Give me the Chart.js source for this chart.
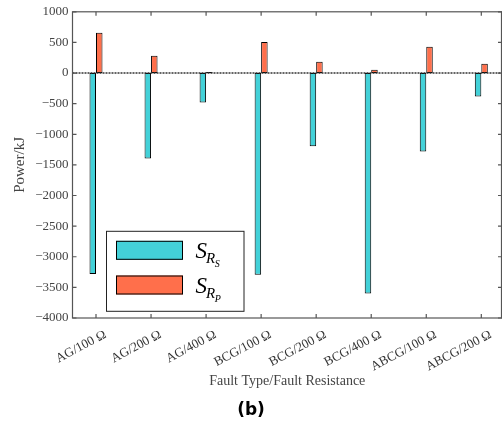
<!DOCTYPE html>
<html><head><meta charset="utf-8">
<script src="https://cdn.jsdelivr.net/npm/chart.js@4/dist/chart.umd.min.js"></script>
<style>html,body{margin:0;padding:0;background:#fff;overflow:hidden}</style>
</head><body>
<canvas id="c" width="502" height="426"></canvas>
<script>
const categories = ['AG/100 Ω','AG/200 Ω','AG/400 Ω','BCG/100 Ω','BCG/200 Ω','BCG/400 Ω','ABCG/100 Ω','ABCG/200 Ω'];
const seriesRS = [-3280,-1395,-480,-3295,-1195,-3600,-1280,-384];
const seriesRP = [658,283,16,505,186,55,430,153];
const yTicks = [1000,500,0,-500,-1000,-1500,-2000,-2500,-3000,-3500,-4000];
const legendNames = [['S','R','S'],['S','R','P']];
const colors = ['#43D1D8','#FF6F4B'];

const toPts = arr => arr.map((v,i)=>({x:i+1,y:v}));
const serif = "'Liberation Serif', 'Times New Roman', serif";
const labelShift = 0.17; // rotated labels hang to the right of the tick, as in the reference

const framePlugin = {
  id:'frame',
  afterDatasetsDraw(chart){
    const {ctx, chartArea:a, scales:{x,y}} = chart;
    ctx.save();
    const y0 = y.getPixelForValue(0);
    ctx.strokeStyle = '#333';
    ctx.lineWidth = 1.5;
    ctx.setLineDash([2,1]);
    ctx.beginPath(); ctx.moveTo(a.left, y0); ctx.lineTo(a.right, y0); ctx.stroke();
    ctx.setLineDash([]);
    ctx.strokeStyle = '#555';
    ctx.lineWidth = 1.2;
    ctx.strokeRect(a.left, a.top, a.right - a.left - 0.5, a.bottom - a.top);
    ctx.beginPath();
    yTicks.forEach(v => {
      const p = y.getPixelForValue(v);
      ctx.moveTo(a.left, p); ctx.lineTo(a.left + 4, p);
      ctx.moveTo(a.right, p); ctx.lineTo(a.right - 4, p);
    });
    categories.forEach((c,i) => {
      const p = x.getPixelForValue(i+1);
      ctx.moveTo(p, a.top); ctx.lineTo(p, a.top + 4);
      ctx.moveTo(p, a.bottom); ctx.lineTo(p, a.bottom - 4);
    });
    ctx.stroke();
    ctx.restore();
  },
  afterDraw(chart){
    const {ctx, chartArea:a} = chart;
    ctx.save();
    const bx = a.left + 33.5, by = a.top + 219, bw = 137.5, bh = 80;
    ctx.fillStyle = '#fff';
    ctx.fillRect(bx, by, bw, bh);
    ctx.strokeStyle = '#222'; ctx.lineWidth = 1;
    ctx.strokeRect(bx + 0.5, by + 0.5, bw, bh);
    chart.data.datasets.forEach((ds, i) => {
      const sy = by + 10 + i * 34.7;
      ctx.fillStyle = ds.backgroundColor;
      ctx.fillRect(bx + 10, sy, 67, 19);
      ctx.strokeStyle = '#000';
      ctx.strokeRect(bx + 10.5, sy + 0.5, 66, 18);
      const parts = legendNames[i];
      const sizes = [23, 15, 10];
      const dy = [17, 22.5, 26.5];
      let tx = bx + 89.5;
      ctx.fillStyle = '#000';
      ctx.textBaseline = 'alphabetic';
      ctx.textAlign = 'left';
      parts.forEach((t, k) => {
        ctx.font = 'italic ' + sizes[k] + 'px ' + serif;
        ctx.fillText(t, tx, sy + dy[k]);
        tx += ctx.measureText(t).width - (k === 0 ? 1 : 0.5);
      });
    });
    ctx.restore();
  }
};

new Chart(document.getElementById('c'), {
  type:'bar',
  data:{
    datasets:[
      {label:'S_RS', data:toPts(seriesRS), backgroundColor:colors[0], borderColor:'#000', borderWidth:1, borderSkipped:false, categoryPercentage:0.236, barPercentage:1},
      {label:'S_RP', data:toPts(seriesRP), backgroundColor:colors[1], borderColor:'#000', borderWidth:1, borderSkipped:false, categoryPercentage:0.236, barPercentage:1}
    ]
  },
  options:{
    responsive:false,
    animation:false,
    devicePixelRatio:1,
    layout:{padding:{top:10,left:0,right:0,bottom:0}},
    plugins:{
      legend:{display:false},
      tooltip:{enabled:false},
      title:{display:true, position:'bottom', text:'(b)', color:'#000',
        font:{family:"'DejaVu Sans', sans-serif", weight:'bold', size:17}, padding:{top:4,bottom:5}}
    },
    scales:{
      x:{
        type:'linear', min:0.573, max:8.376, offset:false,
        grid:{display:false, drawTicks:false},
        border:{display:false},
        afterBuildTicks(s){ s.ticks = categories.map((_,i)=>({value:i+1+labelShift})); },
        afterFit(s){ s.height = 78.6; s.paddingRight = 0; s.paddingLeft = 0; },
        ticks:{autoSkip:false, minRotation:28, maxRotation:28, padding:9, color:'#333',
          font:{family:serif, size:13},
          callback:(v)=>categories[Math.round(v - labelShift)-1]},
        title:{display:true, text:'Fault Type/Fault Resistance', color:'#444',
          font:{family:serif, size:14}, padding:{top:0,bottom:7}}
      },
      y:{
        min:-4000, max:1000,
        grid:{display:false, drawTicks:false},
        border:{display:false},
        afterBuildTicks(s){ s.ticks = yTicks.slice().reverse().map(v=>({value:v})); },
        afterFit(s){ s.width = 72.5; },
        ticks:{autoSkip:false, padding:4, color:'#444', font:{family:serif, size:13},
          callback:(v)=> v < 0 ? '\u2212' + Math.abs(v) : String(v)},
        title:{display:true, text:'Power/kJ', color:'#444',
          font:{family:serif, size:15}, padding:{top:11,bottom:0}}
      }
    }
  },
  plugins:[framePlugin]
});
</script>
</body></html>
